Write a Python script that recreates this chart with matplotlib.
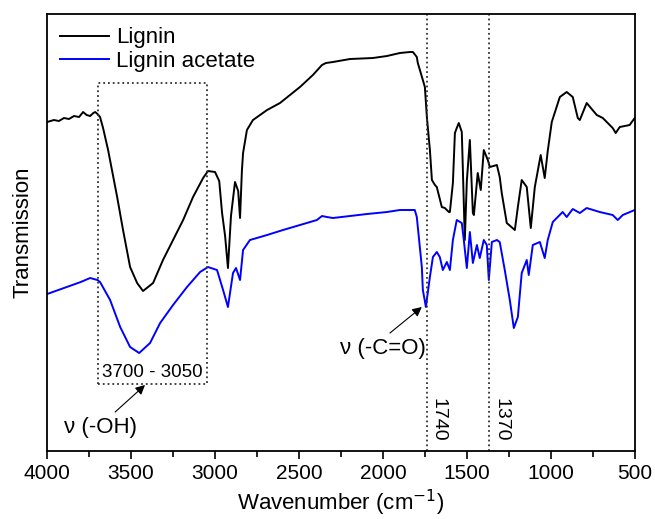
import matplotlib
matplotlib.use('Agg')
import matplotlib.pyplot as plt

plt.rcParams['font.family'] = ['Liberation Sans', 'DejaVu Sans']

# FTIR spectra (transmission in arbitrary units)
lignin_wn = [4000, 3960, 3930, 3900, 3870, 3840, 3810, 3786, 3765, 3744, 3725, 3714, 3700, 3685,
             3667, 3637, 3583, 3548, 3506, 3464, 3429, 3369, 3310, 3250, 3190, 3131, 3071,
             3042, 3000, 2975, 2958, 2940, 2923, 2905, 2881, 2862, 2851, 2840, 2833, 2810,
             2774, 2690, 2613, 2494, 2417, 2363, 2340, 2298, 2196, 2060, 1976, 1899, 1839,
             1821, 1798, 1792, 1762, 1750, 1738, 1720, 1708, 1690, 1679, 1649, 1631, 1607,
             1601, 1583, 1571, 1560, 1548, 1530, 1524, 1512, 1500, 1482, 1464, 1458, 1435,
             1417, 1399, 1375, 1363, 1321, 1304, 1292, 1262, 1214, 1196, 1173, 1143, 1119,
             1095, 1060, 1036, 1018, 994, 946, 905, 869, 839, 827, 786, 726, 690, 631, 613,
             589, 530, 500]
lignin_t = [329, 331, 330, 333, 332, 335, 334, 339, 336, 335, 338, 339, 337, 334,
            323, 301, 254, 221, 184, 168, 160, 168, 191, 211, 231, 254, 273,
            280, 279, 270, 238, 215, 183, 235, 269, 260, 233, 280, 298, 321,
            331, 341, 348, 364, 376, 386, 388, 389, 392, 393, 395, 398, 399,
            399, 394, 388, 371, 364, 334, 301, 271, 266, 264, 244, 243, 239,
            239, 268, 318, 323, 328, 319, 284, 211, 270, 311, 238, 236, 278,
            261, 301, 291, 284, 286, 274, 258, 228, 221, 244, 271, 264, 223,
            264, 296, 273, 300, 329, 354, 359, 354, 333, 331, 348, 336, 333, 323, 318,
            324, 326, 333]

acetate_wn = [4000, 3900, 3800, 3744, 3700, 3685, 3625, 3565, 3506, 3452, 3387, 3327, 3250,
              3167, 3089, 3042, 2988, 2952, 2923, 2893, 2875, 2851, 2833, 2792, 2690, 2595,
              2494, 2393, 2363, 2333, 2298, 2196, 2095, 1976, 1899, 1810, 1798, 1792, 1768,
              1762, 1750, 1744, 1720, 1702, 1679, 1661, 1643, 1619, 1601, 1583, 1560, 1530,
              1518, 1500, 1482, 1464, 1440, 1423, 1399, 1381, 1369, 1351, 1321, 1304, 1274,
              1244, 1220, 1196, 1173, 1143, 1131, 1107, 1065, 1036, 1018, 988, 929, 905, 869,
              827, 786, 708, 631, 601, 571, 500]
acetate_t = [157, 163, 169, 173, 171, 169, 151, 124, 104, 98, 108, 128, 146,
             164, 179, 184, 181, 161, 144, 178, 183, 171, 201, 211, 216, 221,
             226, 231, 235, 234, 233, 235, 237, 239, 241, 241, 234, 224, 184,
             161, 150, 144, 174, 194, 199, 194, 181, 189, 181, 211, 231, 228,
             211, 183, 219, 188, 206, 193, 211, 206, 171, 209, 211, 209, 181,
             151, 123, 134, 178, 191, 176, 206, 209, 193, 211, 229, 239, 234, 242,
             238, 243, 239, 236, 231, 236, 241]

major_ticks = [4000, 3500, 3000, 2500, 2000, 1500, 1000, 500]
minor_ticks = [3750, 3250, 2750, 2250, 1750, 1250, 750]
marker_lines = [1740, 1370]
oh_box = (3700, 3050)

fig = plt.figure(figsize=(6.55, 5.19), dpi=100)
ax = fig.add_axes([0.072, 0.131, 0.897, 0.842])

ax.plot(lignin_wn, lignin_t, color='black', lw=1.4, label='Lignin')
ax.plot(acetate_wn, acetate_t, color='#0000ff', lw=1.4, label='Lignin acetate')

ax.set_xlim(4000, 500)
ax.set_ylim(0, 437)
ax.set_xticks(major_ticks)
ax.set_xticks(minor_ticks, minor=True)
ax.set_yticks([])
ax.tick_params(axis='x', which='major', direction='out', length=6, width=1.2, labelsize=15, pad=3)
ax.tick_params(axis='x', which='minor', direction='out', length=4, width=1.2)
for s in ax.spines.values():
    s.set_linewidth(1.3)

ax.set_xlabel('Wavenumber (cm$^{-1}$)', fontsize=16, labelpad=4)
ax.set_ylabel('Transmission', fontsize=16, labelpad=10)

# dotted box around the OH band
ax.plot([oh_box[0], oh_box[0], oh_box[1], oh_box[1], oh_box[0]],
        [67, 368, 368, 67, 67], color='#333333', ls=':', lw=1.3)
ax.text(sum(oh_box) / 2, 79, '3700 - 3050', ha='center', va='center', fontsize=13.5)
ax.text(3685, 24, 'ν (-OH)', ha='center', va='center', fontsize=16)
ax.annotate('', xy=(3417, 66), xytext=(3595, 39),
            arrowprops=dict(arrowstyle='-|>', color='black', lw=0.8,
                            mutation_scale=14, shrinkA=0, shrinkB=0))

# dotted marker lines
for wn in marker_lines:
    ax.axvline(wn, color='#333333', ls=':', lw=1.3)
    ax.text(wn - 20, 31, str(wn), rotation=270, ha='left', va='center', fontsize=14)

ax.text(2000, 103, 'ν (-C=O)', ha='center', va='center', fontsize=16)
ax.annotate('', xy=(1768, 144), xytext=(1958, 118),
            arrowprops=dict(arrowstyle='-|>', color='black', lw=0.8,
                            mutation_scale=14, shrinkA=0, shrinkB=0))

ax.legend(loc='upper left', frameon=False, fontsize=16, handlelength=2.2,
          handletextpad=0.3, borderaxespad=0.2, labelspacing=0.1)

plt.savefig('out.png', dpi=100)
